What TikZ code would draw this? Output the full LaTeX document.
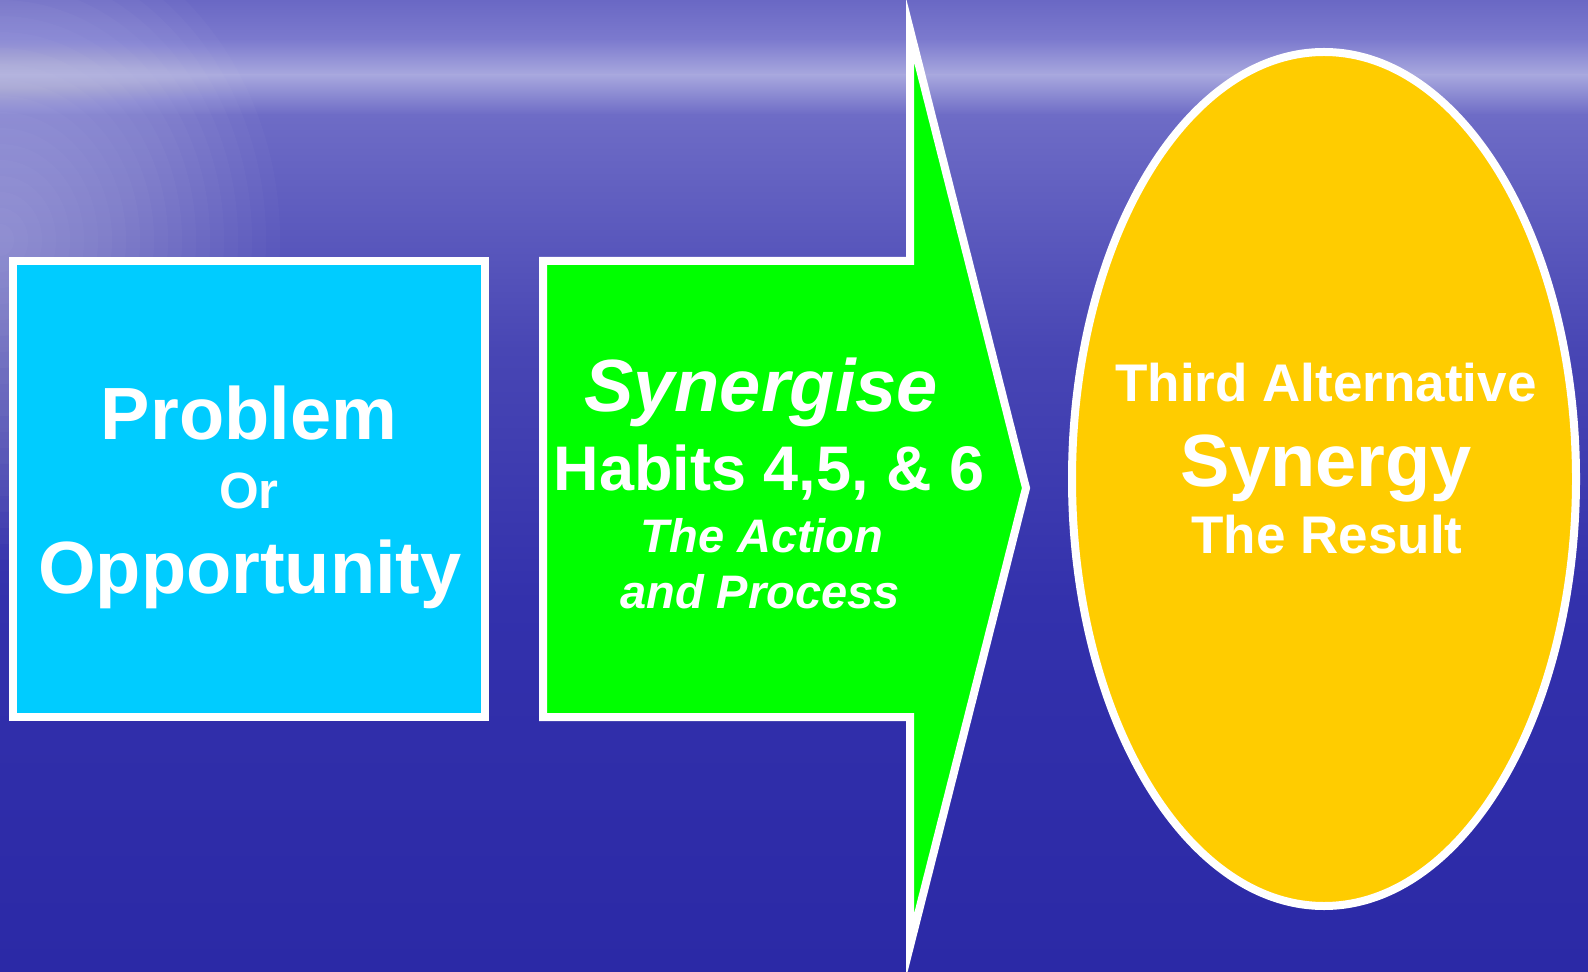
\documentclass[tikz,border=0pt]{standalone}
\usepackage{fontspec}
\setmainfont{Liberation Sans}
\definecolor{bgA}{HTML}{6A68C4}
\definecolor{bgB}{HTML}{7C7ACE}
\definecolor{bgC}{HTML}{A8A8DE}
\definecolor{bgD}{HTML}{6E6CC6}
\definecolor{bgE}{HTML}{4846B4}
\definecolor{bgF}{HTML}{3331AC}
\definecolor{bgG}{HTML}{2B29A6}
\definecolor{probcyan}{HTML}{00CCFF}
\definecolor{actgreen}{HTML}{00FF00}
\definecolor{resyellow}{HTML}{FFCC00}
\tikzset{
  shapeline/.style={draw=white, line width=4pt, line join=miter},
  lbl/.style={text=white, inner sep=0pt, anchor=base, font=\bfseries},
}
\begin{document}
\begin{tikzpicture}[x=0.5pt, y=-0.5pt]
\useasboundingbox (0,0) rectangle (1588,972);
% background
\shade[top color=bgA, bottom color=bgB] (0,0) rectangle (1588,40);
\shade[top color=bgB, bottom color=bgC] (0,39.5) rectangle (1588,75);
\shade[top color=bgC, bottom color=bgD] (0,74.5) rectangle (1588,115);
\shade[top color=bgD, bottom color=bgE] (0,114.5) rectangle (1588,350);
\shade[top color=bgE, bottom color=bgF] (0,349.5) rectangle (1588,600);
\shade[top color=bgF, bottom color=bgG] (0,599.5) rectangle (1588,972);
\foreach \r in {1,...,20}
  \fill[white, opacity=0.025] (0,240) ellipse [x radius=14*\r, y radius=16*\r];
% shapes
\draw[shapeline, fill=probcyan] (13,261) rectangle (485,717);
\draw[shapeline, fill=actgreen] (543,261) -- (910,261) -- (910,30) -- (1026,488)
  -- (910,946) -- (910,717) -- (543,717) -- cycle;
\draw[shapeline, fill=resyellow] (1324,479) ellipse [x radius=252, y radius=427];
% texts
\node[lbl, font=\fontsize{37}{40}\bfseries\selectfont] (problem) at (249,440) {Problem};
\node[lbl, font=\fontsize{25.5}{28}\bfseries\selectfont] (or) at (249,508) {Or};
\node[lbl, font=\fontsize{37}{40}\bfseries\selectfont] (opportunity) at (250,593) {Opportunity};
\node[lbl, font=\fontsize{37}{40}\bfseries\itshape\selectfont] (synergise) at (761,412) {Synergise};
\node[lbl, font=\fontsize{31.5}{34}\bfseries\selectfont] (habits) at (769,490) {Habits 4,5, \& 6};
\node[lbl, font=\fontsize{23.5}{26}\bfseries\itshape\selectfont] (action) at (762,552) {The Action};
\node[lbl, font=\fontsize{23.5}{26}\bfseries\itshape\selectfont] (process) at (760,608) {and Process};
\node[lbl, font=\fontsize{26.5}{29}\bfseries\selectfont] (third) at (1326,402) {Third Alternative};
\node[lbl, font=\fontsize{37}{40}\bfseries\selectfont] (synergy) at (1326,487) {Synergy};
\node[lbl, font=\fontsize{26.5}{29}\bfseries\selectfont] (result) at (1327,553) {The Result};
\end{tikzpicture}
\end{document}
